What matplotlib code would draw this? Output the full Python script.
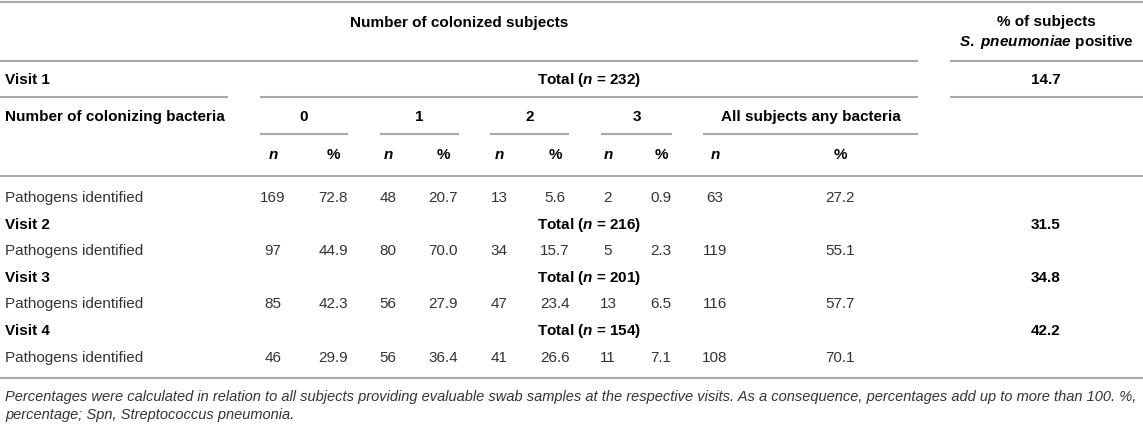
import matplotlib
matplotlib.use('Agg')
from matplotlib import pyplot as plt

plt.rcParams['font.family'] = ['Liberation Sans', 'DejaVu Sans']
plt.rcParams['mathtext.fontset'] = 'custom'
plt.rcParams['mathtext.it'] = 'Liberation Sans:italic:bold'
plt.rcParams['mathtext.rm'] = 'Liberation Sans:bold'
plt.rcParams['mathtext.bf'] = 'Liberation Sans:bold'

# table content
visits = ['Visit 1', 'Visit 2', 'Visit 3', 'Visit 4']
totals = [232, 216, 201, 154]
spn_positive = ['14.7', '31.5', '34.8', '42.2']
categories = ['0', '1', '2', '3', 'All subjects any bacteria']
row_label = 'Pathogens identified'

n_0 = [169, 97, 85, 46]
pct_0 = ['72.8', '44.9', '42.3', '29.9']
n_1 = [48, 80, 56, 56]
pct_1 = ['20.7', '70.0', '27.9', '36.4']
n_2 = [13, 34, 47, 41]
pct_2 = ['5.6', '15.7', '23.4', '26.6']
n_3 = [2, 5, 13, 11]
pct_3 = ['0.9', '2.3', '6.5', '7.1']
n_any = [63, 119, 116, 108]
pct_any = ['27.2', '55.1', '57.7', '70.1']

footnote = ['Percentages were calculated in relation to all subjects providing evaluable swab samples '
            'at the respective visits. As a consequence, percentages add up to more than 100. %,',
            'percentage; Spn, Streptococcus pneumonia.']

W, H = 1143, 426
LINE = '#a8a8a8'
DARK = '#333333'
FS = 11

fig = plt.figure(figsize=(W / 100, H / 100), dpi=100)
ax = fig.add_axes([0, 0, 1, 1])
ax.set_xlim(0, W)
ax.set_ylim(H, 0)
ax.axis('off')


def hline(y, x0, x1):
    ax.plot([x0, x1], [y, y], color=LINE, lw=1.5, solid_capstyle='butt')


def label(x, y, s, ha='center', bold=False, color=None):
    ax.text(x, y, s, ha=ha, va='center', fontsize=FS,
            fontweight='bold' if bold else 'normal',
            color=color or ('black' if bold else DARK))


# column layout
left_x = 5
table_right = 918
spn_left = 950
spn_x = 1046
group_spans = [(260, 348), (380, 459), (490, 569), (601, 672), (703, 918)]
n_cols = [273, 388, 499, 608, 715]
pct_cols = [333, 443, 555, 661, 840]
values = [(n_0, pct_0), (n_1, pct_1), (n_2, pct_2), (n_3, pct_3), (n_any, pct_any)]

# header
hline(2, 0, W)
label(table_right / 2, 23, 'Number of colonized subjects', bold=True)
label(spn_x, 22, '% of subjects', bold=True)
label(spn_x, 42, r'$S.\ pneumoniae$ positive', bold=True)
hline(61, 0, table_right)
hline(61, spn_left, W)

# visit 1 block
label(left_x, 80, visits[0], ha='left', bold=True)
label((group_spans[0][0] + table_right) / 2, 80, 'Total ($n$ = %d)' % totals[0], bold=True)
label(spn_x, 80, spn_positive[0], bold=True)
hline(97, 0, 228)
hline(97, group_spans[0][0], table_right)
hline(97, spn_left, W)

label(left_x, 117, 'Number of colonizing bacteria', ha='left', bold=True)
for (x0, x1), cat in zip(group_spans, categories):
    label((x0 + x1) / 2, 117, cat, bold=True)
    hline(134, x0, x1)
for xn, xp in zip(n_cols, pct_cols):
    label(xn, 155, '$n$', bold=True)
    label(xp, 155, '%', bold=True)
hline(176, 0, W)

# rows per visit
row_h = 26.6
y = 198
for i, visit in enumerate(visits):
    if i > 0:
        label(left_x, y, visit, ha='left', bold=True)
        label((group_spans[0][0] + table_right) / 2, y, 'Total ($n$ = %d)' % totals[i], bold=True)
        label(spn_x, y, spn_positive[i], bold=True)
        y += row_h
    label(left_x, y, row_label, ha='left')
    for (ns, ps), xn, xp in zip(values, n_cols, pct_cols):
        label(xn, y, str(ns[i]))
        label(xp, y, ps[i])
    y += row_h

hline(378, 0, W)

# footnote, scaled to the full width
renderer = fig.canvas.get_renderer()
t1 = ax.text(left_x, 397, footnote[0], ha='left', va='center', fontsize=10,
             fontstyle='italic', color=DARK)
w = t1.get_window_extent(renderer).width
fs_note = 10 * (W - 10) / w
t1.set_fontsize(fs_note)
ax.text(left_x, 415, footnote[1], ha='left', va='center', fontsize=fs_note,
        fontstyle='italic', color=DARK)

fig.savefig('out.png', dpi=100)
